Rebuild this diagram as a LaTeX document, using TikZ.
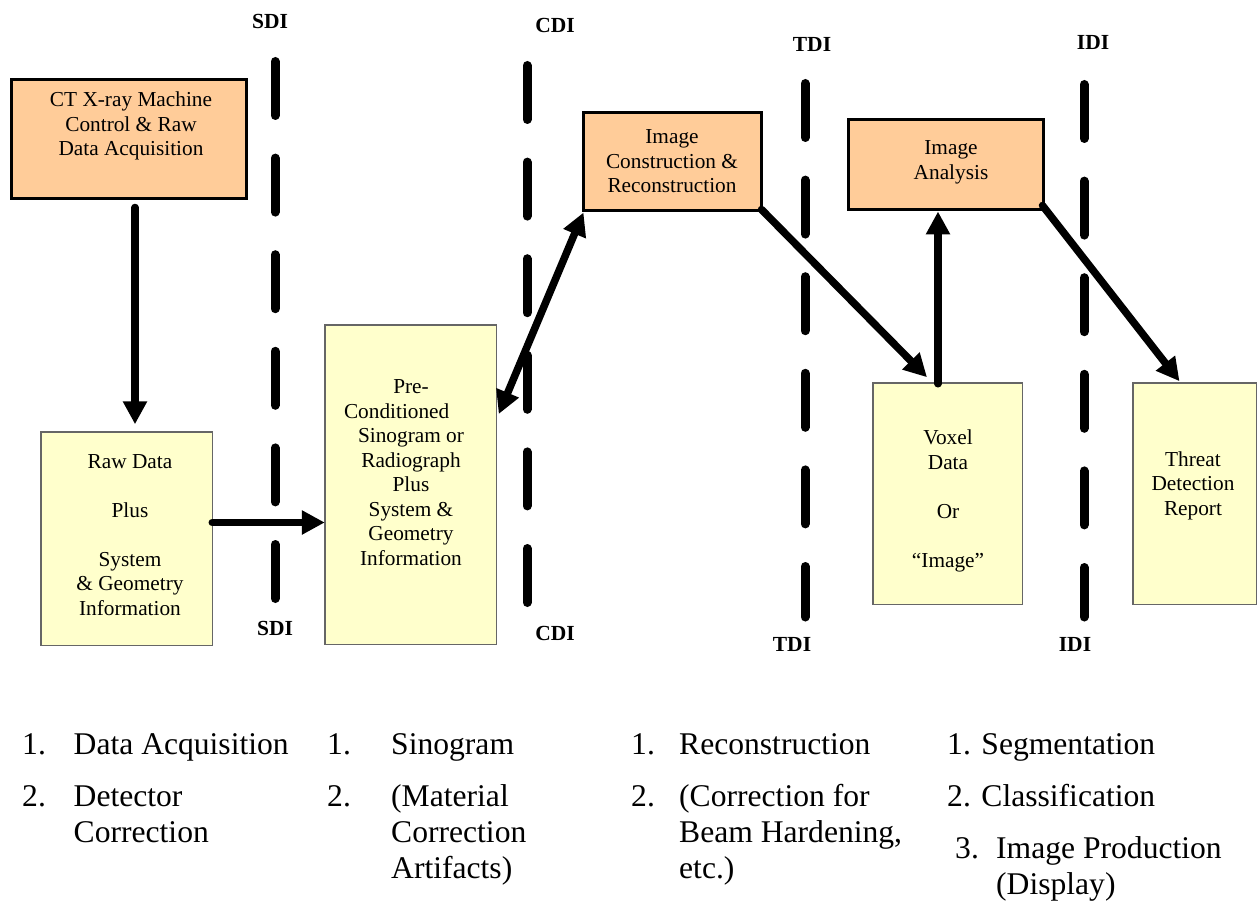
\documentclass[tikz,border=0pt]{standalone}
\usepackage{fontspec}
\setmainfont{Liberation Serif}
\usetikzlibrary{arrows.meta}
\definecolor{peach}{HTML}{FFCC99}
\definecolor{paleyellow}{HTML}{FFFFCC}
\definecolor{boxgray}{HTML}{666666}
\begin{document}
\begin{tikzpicture}[x=1pt,y=-1pt,
  orangebox/.style={draw=black, line width=3pt, fill=peach, inner sep=0pt, outer sep=0pt},
  yellowbox/.style={draw=boxgray, line width=1.5pt, fill=paleyellow, inner sep=0pt, outer sep=0pt},
  boxtext/.style={align=center, font=\fontsize{21.3}{24.5}\selectfont, inner sep=0pt},
  divider/.style={line width=9pt, line cap=round, dash pattern=on 54pt off 42.6pt},
  divlabel/.style={font=\fontsize{21.5}{24}\selectfont\bfseries, inner sep=0pt},
  flowarrow/.style={line width=7.5pt, line cap=round, -{Triangle[length=23pt,width=23pt]}},
  listtext/.style={anchor=base west, font=\fontsize{31.6}{36}\selectfont, inner sep=0pt}
]
\useasboundingbox (0,0) rectangle (1257,901);

% divider lines
\coordinate (sdiA) at (275,61.5);  \coordinate (sdiB) at (275,598.5);
\coordinate (cdiA) at (527,65.5);  \coordinate (cdiB) at (527,607.5);
\coordinate (tdiA) at (805,83.5);  \coordinate (tdiB) at (805,617);
\coordinate (idiA) at (1084,84.5); \coordinate (idiB) at (1084,617);
\draw[divider] (sdiA) -- (sdiB);
\draw[divider] (cdiA) -- (cdiB);
\draw[divider] (tdiA) -- (tdiB);
\draw[divider] (idiA) -- (idiB);

% divider labels
\node[divlabel] (sdit) at (270,21) {SDI};
\node[divlabel] (sdib) at (275,628) {SDI};
\node[divlabel] (cdit) at (555,25) {CDI};
\node[divlabel] (cdib) at (555,633) {CDI};
\node[divlabel] (tdit) at (812,44) {TDI};
\node[divlabel] (tdib) at (792,644) {TDI};
\node[divlabel] (idit) at (1093,42) {IDI};
\node[divlabel] (idib) at (1075,644) {IDI};

% boxes
\node[orangebox, minimum width=235pt, minimum height=119pt] (b1) at (129,139) {};
\node[orangebox, minimum width=178pt, minimum height=98pt] (ic) at (672.5,161.5) {};
\node[orangebox, minimum width=195pt, minimum height=90pt] (ia) at (946,164.5) {};
\node[yellowbox, minimum width=171.5pt, minimum height=213.5pt] (raw) at (126.5,538.5) {};
\node[yellowbox, minimum width=171.5pt, minimum height=319.5pt] (pre) at (410.5,484.5) {};
\node[yellowbox, minimum width=149.5pt, minimum height=221.5pt] (vox) at (947.5,493.5) {};
\node[yellowbox, minimum width=123.5pt, minimum height=221.5pt] (thr) at (1194.5,493.5) {};

% box texts
\node[boxtext] (t1) at (131,126) {CT X-ray Machine\\Control \& Raw\\Data Acquisition};
\node[boxtext] (traw) at (130,535) {Raw Data\\\mbox{}\\Plus\\\mbox{}\\System\\\& Geometry\\Information};
\node[boxtext] (tpre) at (411,472.5) {Pre-\\\makebox[134pt][l]{Conditioned}\\Sinogram or\\Radiograph\\Plus\\System \&\\Geometry\\Information};
\node[boxtext] (tic) at (672,161.5) {Image\\Construction \&\\Reconstruction};
\node[boxtext] (tia) at (951,162.5) {Image\\Analysis};
\node[boxtext] (tvox) at (948,501) {Voxel\\Data\\\mbox{}\\Or\\\mbox{}\\“Image”};
\node[boxtext] (tthr) at (1193,485.5) {Threat\\Detection\\Report};

% connectors
\draw[flowarrow] ([xshift=6pt,yshift=-9pt]b1.south) -- ([xshift=8.5pt,yshift=7.5pt]raw.north);
\draw[flowarrow] ([yshift=16pt]raw.east) -- ([yshift=16pt]raw.east -| pre.west);
\draw[line width=7.5pt, {Triangle[length=23pt,width=23pt]}-{Triangle[length=23pt,width=23pt]}]
  ([xshift=2.5pt,yshift=70.5pt]pre.east) -- ([yshift=-2pt]ic.south west);
\draw[flowarrow] ([yshift=1pt]ic.south east) -- ([xshift=-20.5pt,yshift=5.5pt]vox.north);
\draw[flowarrow] ([xshift=-9.5pt,yshift=-1pt]vox.north) -- ([xshift=-8pt,yshift=-2pt]ia.south);
\draw[flowarrow] ([xshift=-1pt,yshift=4pt]ia.south east) -- ([xshift=-15pt,yshift=1.5pt]thr.north);

% lists
\node[listtext] (c1n1) at (22,754) {1.};
\node[listtext] (c1a) at (73.5,754) {Data Acquisition};
\node[listtext] (c1n2) at (22,806) {2.};
\node[listtext] (c1b) at (73.5,806) {Detector};
\node[listtext] (c1c) at (73.5,842) {Correction};

\node[listtext] (c2n1) at (327,754) {1.};
\node[listtext] (c2a) at (391,754) {Sinogram};
\node[listtext] (c2n2) at (327,806) {2.};
\node[listtext] (c2b) at (391,806) {(Material};
\node[listtext] (c2c) at (391,842) {Correction};
\node[listtext] (c2d) at (391,878) {Artifacts)};

\node[listtext] (c3n1) at (631,754) {1.};
\node[listtext] (c3a) at (679,754) {Reconstruction};
\node[listtext] (c3n2) at (631,806) {2.};
\node[listtext] (c3b) at (679,806) {(Correction for};
\node[listtext] (c3c) at (679,842) {Beam Hardening,};
\node[listtext] (c3d) at (679,878) {etc.)};

\node[listtext] (c4a) at (947,754) {1. Segmentation};
\node[listtext] (c4b) at (947,806) {2. Classification};
\node[listtext] (c4n3) at (955,858) {3.};
\node[listtext] (c4c) at (996,858) {Image Production};
\node[listtext] (c4d) at (996,894) {(Display)};
\end{tikzpicture}
\end{document}
